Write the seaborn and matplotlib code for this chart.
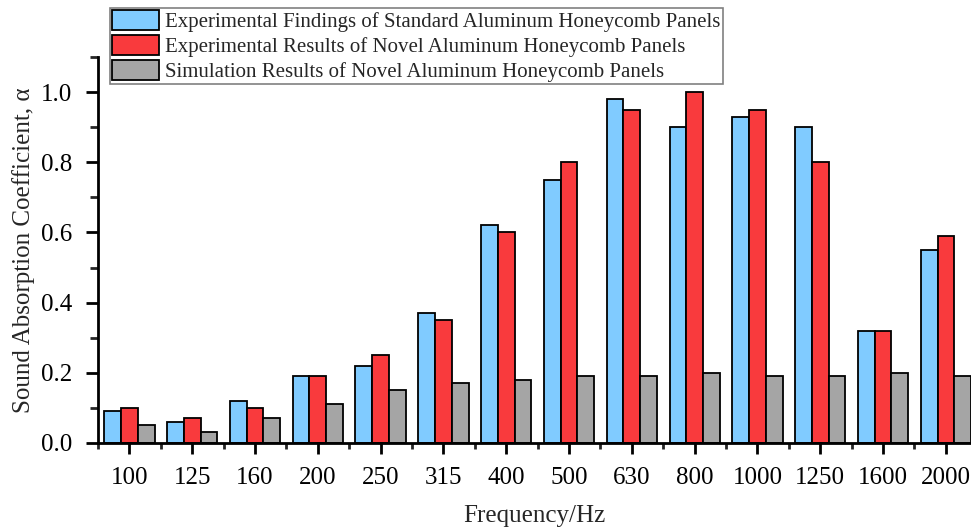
import numpy as np
import pandas as pd
import matplotlib
matplotlib.use("Agg")
import matplotlib.pyplot as plt
import seaborn as sns
from matplotlib.ticker import MultipleLocator, FixedLocator

frequencies = ["100", "125", "160", "200", "250", "315", "400", "500",
               "630", "800", "1000", "1250", "1600", "2000"]
standard_exp = [0.09, 0.06, 0.12, 0.19, 0.22, 0.37, 0.62, 0.75, 0.98, 0.90, 0.93, 0.90, 0.32, 0.55]
novel_exp = [0.10, 0.07, 0.10, 0.19, 0.25, 0.35, 0.60, 0.80, 0.95, 1.00, 0.95, 0.80, 0.32, 0.59]
novel_sim = [0.05, 0.03, 0.07, 0.11, 0.15, 0.17, 0.18, 0.19, 0.19, 0.20, 0.19, 0.19, 0.20, 0.19]
series_names = ["Experimental Findings of Standard Aluminum Honeycomb Panels",
                "Experimental Results of Novel Aluminum Honeycomb Panels",
                "Simulation Results of Novel Aluminum Honeycomb Panels"]
colors = ["#80CBFF", "#F93A3D", "#A5A5A5"]

df = pd.DataFrame({
    "Frequency": frequencies * 3,
    "Value": standard_exp + novel_exp + novel_sim,
    "Series": [series_names[0]] * 14 + [series_names[1]] * 14 + [series_names[2]] * 14,
})

sns.set_style("ticks")
plt.rcParams["font.family"] = ["Liberation Serif", "DejaVu Serif"]

fig = plt.figure(figsize=(9.71, 5.28), dpi=100)
ax = fig.add_axes([0.1009, 0.161, 0.8991, 0.731])

sns.barplot(data=df, x="Frequency", y="Value", hue="Series", order=frequencies,
            hue_order=series_names, palette=colors, width=0.8, gap=0,
            edgecolor="black", linewidth=1.3, saturation=1, ax=ax)

ax.set_xlim(-0.5, 13.4)
ax.set_ylim(0, 1.1)
ax.yaxis.set_major_locator(FixedLocator([0.0, 0.2, 0.4, 0.6, 0.8, 1.0]))
ax.yaxis.set_minor_locator(MultipleLocator(0.1))
ax.set_yticklabels(["0.0", "0.2", "0.4", "0.6", "0.8", "1.0"])
ax.xaxis.set_minor_locator(FixedLocator(np.arange(-0.5, 13.6, 1.0)))

for s in ["top", "right"]:
    ax.spines[s].set_visible(False)
for s in ["left", "bottom"]:
    ax.spines[s].set_linewidth(2)
    ax.spines[s].set_color("black")

ax.tick_params(axis="y", which="major", direction="out", length=9, width=2,
               labelsize=18, colors="black", pad=9.5)
ax.tick_params(axis="x", which="major", direction="out", length=8, width=2,
               labelsize=18, colors="black", pad=9)
ax.tick_params(axis="y", which="minor", direction="out", length=5.5, width=2)
ax.tick_params(axis="x", which="minor", direction="out", length=4, width=2)

ax.set_xlabel("Frequency/Hz", fontsize=18, labelpad=12)
ax.set_ylabel("Sound Absorption Coefficient, α", fontsize=18, labelpad=4)

leg = ax.legend(loc="upper left", bbox_to_anchor=(0.113, 0.985),
                bbox_transform=fig.transFigure, fontsize=15, frameon=True,
                fancybox=False, edgecolor="#808080", framealpha=1,
                handlelength=2.25, handleheight=1.05, labelspacing=0.15,
                handletextpad=0.3, borderpad=0.12, borderaxespad=0)
leg.get_frame().set_linewidth(1.2)

fig.savefig("out.png", dpi=100)
